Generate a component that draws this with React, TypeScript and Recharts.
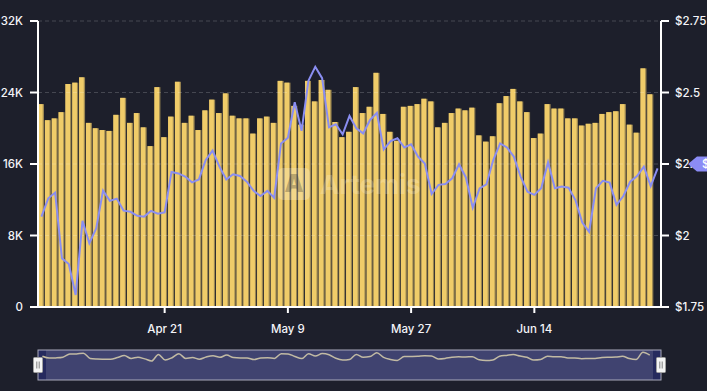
import React from "react";
import {
  ComposedChart,
  LineChart,
  Bar,
  Line,
  XAxis,
  YAxis,
  Brush,
  ReferenceLine,
} from "recharts";

const monthNames = ["Jan", "Feb", "Mar", "Apr", "May", "Jun", "Jul", "Aug", "Sep", "Oct", "Nov", "Dec"];

// one category per day, Apr 3 -> Jul 2
const dates: string[] = [];
for (let i = 0; i < 91; i++) {
  const d = new Date(2024, 3, 3 + i);
  dates.push(`${monthNames[d.getMonth()]} ${d.getDate()}`);
}

const volume: (number | null)[] = [
  22700, 20900, 21100, 21800, 24950, 25100, 25700, 20600, 20000, 19800,
  19700, 21500, 23400, 20600, 21700, 20100, 18000, 24600, 19000, 21300,
  25200, 20600, 21400, 19800, 22000, 23200, 21700, 23900, 21400, 21100,
  21100, 19400, 21100, 21300, 20600, 25300, 25100, 22500, 20400, 25300,
  23000, 25400, 24300, 20700, 19000, 19600, 24600, 21700, 22400, 26200,
  21600, 19600, 18600, 22400, 22500, 22700, 23300, 23000, 20100, 20600,
  21700, 22200, 22000, 22300, 19200, 18500, 19100, 22800, 23600, 24400,
  23000, 21800, 18900, 19400, 22700, 22200, 22200, 21100, 21100, 20300,
  20500, 20600, 21600, 21800, 21900, 22700, 20400, 19500, 26700, 23800,
  null,
];

const price: number[] = [
  2.066, 2.13, 2.15, 1.92, 1.9, 1.792, 2.051, 1.973, 2.025, 2.157,
  2.121, 2.129, 2.087, 2.083, 2.069, 2.066, 2.086, 2.076, 2.081, 2.222,
  2.217, 2.206, 2.186, 2.196, 2.264, 2.297, 2.241, 2.196, 2.214, 2.208,
  2.188, 2.156, 2.138, 2.156, 2.132, 2.322, 2.342, 2.466, 2.366, 2.541,
  2.59, 2.55, 2.378, 2.389, 2.354, 2.418, 2.375, 2.357, 2.404, 2.429,
  2.301, 2.33, 2.34, 2.308, 2.319, 2.276, 2.252, 2.145, 2.177, 2.18,
  2.2, 2.249, 2.203, 2.097, 2.165, 2.179, 2.264, 2.322, 2.308, 2.276,
  2.206, 2.153, 2.142, 2.165, 2.256, 2.165, 2.171, 2.167, 2.124, 2.045,
  2.013, 2.165, 2.191, 2.185, 2.107, 2.138, 2.188, 2.208, 2.241, 2.173,
  2.235,
];

const currentPrice = 2.25;
const xTicks = ["Apr 21", "May 9", "May 27", "Jun 14"];
const volumeTicks = [0, 8000, 16000, 24000, 32000];
const priceTicks = [1.75, 2, 2.25, 2.5, 2.75];

const data = dates.map((date, i) => ({ date, volume: volume[i], price: price[i] }));

const tickStyle = { fill: "#f4f4f8", fontSize: 11.5, fontFamily: "Inter", fontWeight: 500 };
const axisLine = { stroke: "#ffffff", strokeWidth: 2 };

function GoldBar(props: any) {
  const { x, y, width, height } = props;
  if (!height || height <= 0) return null;
  return (
    <g>
      <rect x={x} y={y} width={width} height={height} fill="#9c8751" />
      <rect x={x} y={y} width={Math.max(width - 1.3, 0)} height={height} fill="#f0cc69" />
    </g>
  );
}

function Traveller(props: any) {
  const { x, y, width } = props;
  const cx = x < 300 ? x : x + width;
  const ty = y + 7.5;
  return (
    <g>
      <rect x={cx - 4.5} y={ty} width={9} height={15} rx={1} fill="#f4f4f4" stroke="#a0a0a0" />
      <line x1={cx - 1.2} x2={cx - 1.2} y1={ty + 4} y2={ty + 11} stroke="#808080" />
      <line x1={cx + 1.2} x2={cx + 1.2} y1={ty + 4} y2={ty + 11} stroke="#808080" />
    </g>
  );
}

// right axis tick; the current-price tag is drawn over the tick it sits on
function PriceTick(props: any) {
  const { x, y, payload } = props;
  const isCurrent = payload.value === currentPrice;
  const tx = x + 13;
  return (
    <g>
      <text x={x} y={y} dy="0.355em" textAnchor="start" {...tickStyle}>
        ${payload.value}
      </text>
      {isCurrent && (
        <g>
          <path
            d={`M${tx} ${y} L${tx + 9} ${y - 7.5} L${tx + 70} ${y - 7.5} L${tx + 70} ${y + 7.5} L${tx + 9} ${y + 7.5} Z`}
            fill="#8b8cf6"
          />
          <text x={tx + 14} y={y} dy="0.355em" fill="#ffffff" fontSize={11.5} fontFamily="Inter" fontWeight={500}>
            ${currentPrice}
          </text>
        </g>
      )}
    </g>
  );
}

export default function App() {
  return (
    <div
      style={{
        position: "absolute",
        left: 0,
        top: 0,
        width: 707,
        height: 391,
        background: "#1d1f2b",
        overflow: "hidden",
      }}
    >
      <ComposedChart
        width={707}
        height={391}
        data={data}
        margin={{ top: 21, right: 0, left: 0, bottom: 10 }}
      >
        <XAxis
          dataKey="date"
          ticks={xTicks}
          interval={0}
          tick={tickStyle}
          tickSize={6}
          tickMargin={12}
          height={44}
          axisLine={axisLine}
          tickLine={axisLine}
        />
        <YAxis
          yAxisId="left"
          width={38}
          domain={[0, 32000]}
          ticks={volumeTicks}
          tickFormatter={(v: number) => (v === 0 ? "0" : `${v / 1000}K`)}
          tick={tickStyle}
          tickSize={8}
          tickMargin={7}
          axisLine={axisLine}
          tickLine={axisLine}
        />
        <YAxis
          yAxisId="right"
          orientation="right"
          width={46}
          domain={[1.75, 2.75]}
          ticks={priceTicks}
          tick={<PriceTick />}
          tickSize={8}
          tickMargin={6}
          axisLine={axisLine}
          tickLine={axisLine}
        />
        <Bar
          yAxisId="left"
          dataKey="volume"
          barSize={6}
          shape={<GoldBar />}
          isAnimationActive={false}
        />
        {volumeTicks.slice(1).map((v) => (
          <ReferenceLine
            key={v}
            yAxisId="left"
            y={v}
            stroke="rgba(255,255,255,0.18)"
            strokeDasharray="4 3"
          />
        ))}
        <Line
          yAxisId="right"
          dataKey="price"
          stroke="#8a8ef2"
          strokeWidth={2}
          dot={false}
          activeDot={false}
          isAnimationActive={false}
        />
        <Brush
          dataKey="date"
          y={350}
          height={30}
          stroke="#a9aabb"
          fill="#262a5e"
          travellerWidth={8}
          traveller={(p: any) => <Traveller {...p} />}
          tickFormatter={() => ""}
        >
          <LineChart data={data}>
            <Line
              dataKey="volume"
              type="monotone"
              stroke="#c8bf9f"
              strokeWidth={1.5}
              dot={false}
              isAnimationActive={false}
            />
          </LineChart>
        </Brush>
      </ComposedChart>
      <div
        style={{
          position: "absolute",
          left: 278,
          top: 168,
          display: "flex",
          alignItems: "center",
          pointerEvents: "none",
        }}
      >
        <div
          style={{
            width: 32,
            height: 32,
            borderRadius: 5,
            background: "rgba(255,255,255,0.22)",
            color: "rgba(40,40,40,0.3)",
            fontFamily: "Inter",
            fontWeight: 900,
            fontSize: 24,
            lineHeight: "32px",
            textAlign: "center",
          }}
        >
          A
        </div>
        <div
          style={{
            marginLeft: 10,
            fontFamily: "Inter",
            fontWeight: 700,
            fontSize: 26,
            color: "rgba(255,255,255,0.2)",
          }}
        >
          Artemis
        </div>
      </div>
    </div>
  );
}
